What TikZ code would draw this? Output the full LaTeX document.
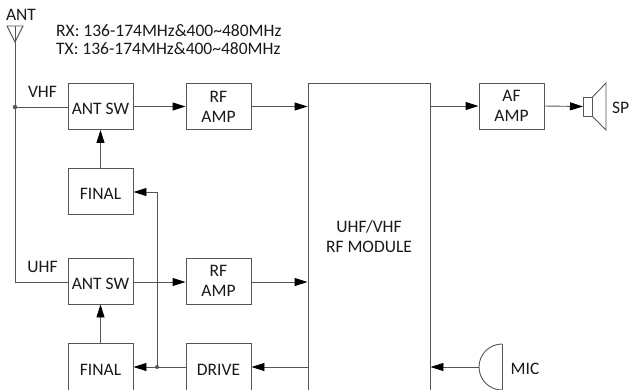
\documentclass[tikz,border=0pt]{standalone}
\usepackage{fontspec}
\setmainfont{Carlito}
\usetikzlibrary{arrows.meta,calc}
\definecolor{linecol}{RGB}{85,85,85}
\definecolor{txtcol}{RGB}{25,25,25}
\begin{document}
\begin{tikzpicture}[x=1pt,y=-1pt,
  font=\fontsize{17.5}{20}\selectfont,
  blk/.style={draw=linecol,line width=0.9pt,minimum width=65pt,minimum height=46pt,inner sep=0pt,align=center,text=txtcol},
  low/.style={text height=16.3pt,text depth=0pt},
  wire/.style={draw=linecol,line width=0.9pt},
  arr/.style={wire,-{Triangle[length=13pt,width=8pt,color=black]}},
  lbl/.style={text=txtcol,inner sep=0pt}]
\useasboundingbox (0,0) rectangle (629,389);
\clip (0,0) rectangle (629,389);
% antenna
\coordinate (anttop) at (15,26);
\coordinate (vj) at (15,107);
\coordinate (uc) at (15,282);
\draw[wire] (7,26) -- (23,26) -- (15,42) -- cycle;
\node[lbl,anchor=base] (antlbl) at (21,20.5) {ANT};
\node[lbl,anchor=base west] (rx) at (56,36.5) {RX: 136-174MHz\&400\textasciitilde480MHz};
\node[lbl,anchor=base west] (tx) at (56,54.5) {TX: 136-174MHz\&400\textasciitilde480MHz};
\node[lbl,anchor=base] (vhf) at (42.5,97) {VHF};
\node[lbl,anchor=base] (uhf) at (42.5,272) {UHF};
% blocks
\node[blk,low] (antsw1) at (100.5,106.5) {ANT SW};
\node[blk] (rfamp1) at (218.5,106.5) {RF\\AMP};
\node[blk,low] (final1) at (100.5,191) {FINAL};
\node[blk,low] (antsw2) at (100.5,281) {ANT SW};
\node[blk] (rfamp2) at (218.5,281) {RF\\AMP};
\node[blk,minimum height=54pt] (final2) at (100.5,370) {FINAL};
\node[blk,minimum height=54pt] (drive) at (218.5,370) {DRIVE};
\node[blk,minimum width=122pt,minimum height=330pt] (module) at (369,248) {};
\node[lbl,align=center] (modlbl) at (369,236) {UHF/VHF\\RF MODULE};
\node[blk] (afamp) at (511.5,106) {AF\\AMP};
\node[lbl,anchor=west] (sp) at (612,108) {SP};
\node[lbl] (miclbl) at (525,368.5) {MIC};
% speaker
\coordinate (spk) at (583,106.5);
\draw[wire] (583,97.5) rectangle (592,116);
\draw[wire] (592,97.5) -- (606,83) -- (606,130) -- (592,116);
% mic
\coordinate (mic) at (479,367);
\draw[wire] (502,344) arc[start angle=270,end angle=90,radius=23];
\draw[wire] (502,344) -- (502,395);
% connectors
\draw[wire] (anttop) -- (uc) -- (uc -| antsw2.west);
\draw[wire] (vj) -- (vj -| antsw1.west);
\fill[linecol] (vj) circle[radius=2.2];
\draw[arr] (antsw1.east) -- (rfamp1.west);
\draw[arr] (rfamp1.east) -- (rfamp1.east -| module.west);
\draw[arr] (antsw2.east |- uc) -- (rfamp2.west |- uc);
\draw[arr] (rfamp2.east |- uc) -- (module.west |- uc);
\draw[arr] (final1.north) -- (antsw1.south);
\draw[arr] (final2.north) -- (antsw2.south);
\coordinate (dj) at (157,367);
\draw[arr] (drive.west |- dj) -- (final2.east |- dj);
\draw[arr] (dj) -- (157,192) -- (final1.east |- 0,192);
\fill[linecol] (dj) circle[radius=2];
\draw[arr] (module.west |- dj) -- (drive.east |- dj);
\draw[arr] (mic) -- (module.east |- mic);
\draw[arr] (module.east |- afamp.west) -- (afamp.west);
\draw[arr] (afamp.east) -- (spk);
\end{tikzpicture}
\end{document}
